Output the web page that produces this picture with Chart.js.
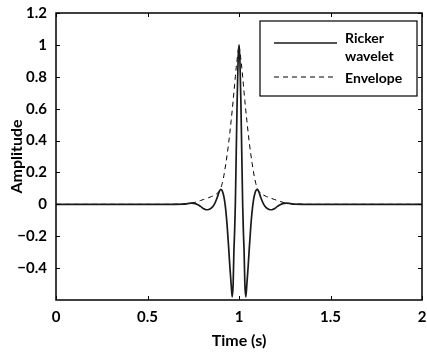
<!DOCTYPE html>
<html>
<head>
<meta charset="utf-8">
<script src="https://cdn.jsdelivr.net/npm/chart.js@4.4.0/dist/chart.umd.min.js"></script>
<style>
html, body { margin: 0; padding: 0; background: #fff; }
#wrap { width: 427px; height: 354px; }
</style>
</head>
<body>
<div id="wrap"><canvas id="myChart" width="427" height="354"></canvas></div>
<script>
// time samples (s), denser around the main lobe
const times = [
  0, 0.3, 0.5, 0.6, 0.65, 0.7, 0.72, 0.74, 0.755, 0.775, 0.79, 0.805, 0.82, 0.835, 0.85, 0.865, 0.88, 0.892,
  0.9, 0.908, 0.915, 0.921, 0.928, 0.935, 0.944, 0.95, 0.957, 0.963, 0.968, 0.972, 0.976, 0.98, 0.985, 0.99, 0.995,
  1,
  1.005, 1.01, 1.015, 1.02, 1.024, 1.028, 1.032, 1.037, 1.043, 1.05, 1.056, 1.065, 1.072, 1.079, 1.085, 1.092,
  1.1, 1.108, 1.12, 1.135, 1.15, 1.165, 1.18, 1.195, 1.21, 1.225, 1.245, 1.26, 1.28, 1.3, 1.35, 1.4, 1.5, 1.7, 2
];
const ricker = [
  0, 0, 0, 0, 0, 0.001, 0.005, 0.008, 0.006, -0.002, -0.013, -0.026, -0.034, -0.032, -0.022, 0, 0.04, 0.08,
  0.094, 0.086, 0.06, 0.025, -0.04, -0.13, -0.28, -0.39, -0.5, -0.58, -0.5, -0.3, -0.17, 0, 0.33, 0.66, 0.9,
  1,
  0.9, 0.66, 0.33, 0, -0.17, -0.3, -0.5, -0.58, -0.5, -0.39, -0.28, -0.13, -0.04, 0.025, 0.06, 0.086,
  0.094, 0.08, 0.04, 0, -0.022, -0.032, -0.034, -0.026, -0.013, -0.002, 0.006, 0.008, 0.005, 0.001, 0, 0, 0, 0, 0
];
const envelope = [
  0, 0, 0, 0, 0.001, 0.003, 0.005, 0.008, 0.011, 0.018, 0.024, 0.03, 0.036, 0.042, 0.049, 0.057, 0.068, 0.083,
  0.1, 0.13, 0.165, 0.205, 0.255, 0.31, 0.39, 0.45, 0.525, 0.59, 0.65, 0.7, 0.75, 0.8, 0.86, 0.91, 0.96,
  1,
  0.96, 0.91, 0.86, 0.8, 0.75, 0.7, 0.65, 0.59, 0.525, 0.45, 0.39, 0.31, 0.255, 0.205, 0.165, 0.13,
  0.1, 0.083, 0.068, 0.057, 0.049, 0.042, 0.036, 0.03, 0.024, 0.018, 0.011, 0.008, 0.005, 0.003, 0.001, 0, 0, 0, 0
];
const xTicks = [0, 0.5, 1, 1.5, 2];
const yTicks = [-0.4, -0.2, 0, 0.2, 0.4, 0.6, 0.8, 1, 1.2];
const seriesNames = ['Ricker wavelet', 'Envelope'];
const legendLines = [['Ricker', 'wavelet'], ['Envelope']];

const FONT = "Lato, 'DejaVu Sans', sans-serif";
Chart.defaults.font.family = FONT;
Chart.defaults.font.size = 15;
Chart.defaults.font.weight = 'bold';
Chart.defaults.color = '#000';

const fmt = (v) => v < 0 ? '\u2212' + Math.abs(v) : String(v);

// matlab-ish box, inward ticks and the boxed legend
const frame = {
  id: 'frame',
  afterDraw(chart) {
    const {ctx, chartArea: a, scales: {x, y}} = chart;
    ctx.save();
    ctx.strokeStyle = '#000';
    ctx.lineWidth = 1;
    ctx.beginPath();
    x.ticks.forEach(t => {
      const px = Math.round(x.getPixelForValue(t.value)) + 0.5;
      ctx.moveTo(px, a.bottom); ctx.lineTo(px, a.bottom - 4);
      ctx.moveTo(px, a.top); ctx.lineTo(px, a.top + 4);
    });
    y.ticks.forEach(t => {
      const py = Math.round(y.getPixelForValue(t.value)) + 0.5;
      ctx.moveTo(a.left, py); ctx.lineTo(a.left + 4, py);
      ctx.moveTo(a.right, py); ctx.lineTo(a.right - 4, py);
    });
    ctx.stroke();
    ctx.lineWidth = 1.5;
    ctx.strokeRect(a.left, a.top, a.right - a.left, a.bottom - a.top);

    // legend
    const bx = a.right - 162, by = a.top + 8, bw = 157, bh = 75;
    ctx.fillStyle = '#fff';
    ctx.fillRect(bx, by, bw, bh);
    ctx.lineWidth = 1.2;
    ctx.strokeRect(bx, by, bw, bh);
    ctx.font = 'bold 14px ' + FONT;
    ctx.textBaseline = 'middle';
    ctx.textAlign = 'left';
    const rows = [{lineY: by + 22, textY: [by + 17, by + 35]}, {lineY: by + 56, textY: [by + 57]}];
    chart.data.datasets.forEach((ds, i) => {
      const r = rows[i];
      ctx.beginPath();
      ctx.strokeStyle = ds.borderColor;
      ctx.lineWidth = ds.borderWidth;
      ctx.setLineDash(ds.borderDash || []);
      ctx.moveTo(bx + 14, r.lineY); ctx.lineTo(bx + 77, r.lineY);
      ctx.stroke();
      ctx.setLineDash([]);
      ctx.fillStyle = '#000';
      legendLines[i].forEach((s, k) => ctx.fillText(s, bx + 85, r.textY[k]));
    });
    ctx.restore();
  }
};

new Chart(document.getElementById('myChart'), {
  type: 'line',
  data: {
    datasets: [
      {
        label: seriesNames[0],
        data: times.map((t, i) => ({x: t, y: ricker[i]})),
        borderColor: '#1a1a1a',
        borderWidth: 1.7,
        pointRadius: 0,
        cubicInterpolationMode: 'monotone'
      },
      {
        label: seriesNames[1],
        data: times.map((t, i) => ({x: t, y: envelope[i]})),
        borderColor: '#000',
        borderWidth: 1,
        borderDash: [5, 4],
        pointRadius: 0,
        cubicInterpolationMode: 'monotone'
      }
    ]
  },
  options: {
    responsive: false,
    animation: false,
    devicePixelRatio: 1,
    layout: {autoPadding: false, padding: {top: 13, right: 5, left: 0, bottom: 0}},
    plugins: {legend: {display: false}, tooltip: {enabled: false}},
    scales: {
      x: {
        type: 'linear', min: 0, max: 2,
        afterBuildTicks: (s) => { s.ticks = xTicks.map(v => ({value: v})); },
        afterFit: (s) => { s.height = 54; s.paddingLeft = 0; s.paddingRight = 0; },
        grid: {display: false, drawTicks: false},
        border: {display: false},
        ticks: {padding: 8, maxRotation: 0, callback: fmt},
        title: {display: true, text: 'Time (s)', font: {size: 16}, padding: {top: 0, bottom: 4}}
      },
      y: {
        type: 'linear', min: -0.6, max: 1.2,
        afterBuildTicks: (s) => { s.ticks = yTicks.map(v => ({value: v})); },
        afterFit: (s) => { s.width = 56; s.paddingTop = 0; s.paddingBottom = 0; },
        grid: {display: false, drawTicks: false},
        border: {display: false},
        ticks: {padding: 9, callback: fmt},
        title: {display: true, text: 'Amplitude', font: {size: 16}, padding: {top: 7, bottom: 0}}
      }
    }
  },
  plugins: [frame]
});
</script>
</body>
</html>
